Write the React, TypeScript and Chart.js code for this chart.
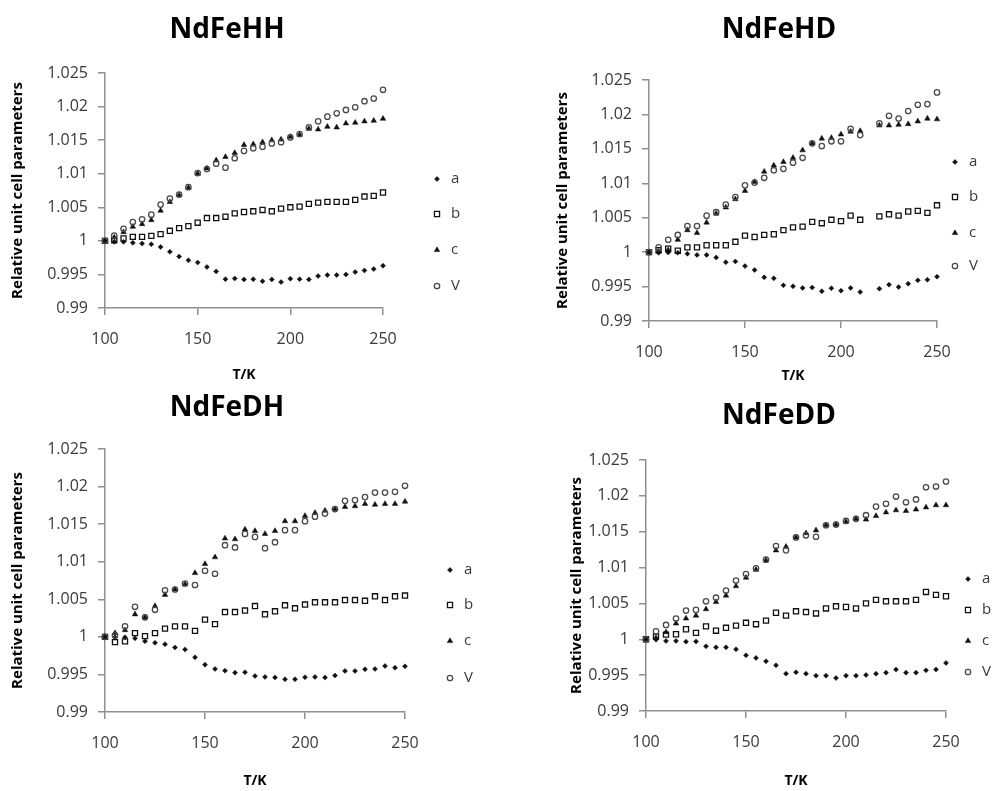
import React, { useEffect, useRef } from 'react';
import { Chart, registerables } from 'chart.js';

Chart.register(...registerables);

// ---------- data ----------
const temperatures = [100, 105, 110, 115, 120, 125, 130, 135, 140, 145, 150, 155, 160, 165, 170, 175, 180, 185, 190, 195, 200, 205, 210, 215, 220, 225, 230, 235, 240, 245, 250];

const seriesLabels = ['a', 'b', 'c', 'V'];
const xTickValues = [100, 150, 200, 250];
const yTickValues = [0.99, 0.995, 1, 1.005, 1.01, 1.015, 1.02, 1.025];
const panelTitles = ['NdFeHH', 'NdFeHD', 'NdFeDH', 'NdFeDD'];
const xAxisTitle = 'T/K';
const yAxisTitle = 'Relative unit cell parameters';

// NdFeHH
const hhA = [1.0, 0.99985, 0.99985, 0.9997, 0.9996, 0.9995, 0.9991, 0.99837, 0.99767, 0.9971, 0.99678, 0.9961, 0.99545, 0.9943, 0.9944, 0.99426, 0.9943, 0.994, 0.99426, 0.99386, 0.99436, 0.9943, 0.99426, 0.99475, 0.9949, 0.9949, 0.995, 0.99535, 0.9956, 0.9958, 0.99629];
const hhB = [1.0, 1.0001, 1.00035, 1.0006, 1.0006, 1.00075, 1.001, 1.0015, 1.0019, 1.0022, 1.0027, 1.0034, 1.0034, 1.0036, 1.0041, 1.0043, 1.0044, 1.0046, 1.0044, 1.0048, 1.005, 1.0051, 1.0055, 1.0057, 1.0058, 1.0058, 1.0058, 1.0061, 1.0066, 1.0067, 1.0072];
const hhC = [1.0, 1.0005, 1.0013, 1.0021, 1.0025, 1.0031, 1.0045, 1.0058, 1.0068, 1.0079, 1.01, 1.0108, 1.012, 1.0125, 1.0131, 1.0143, 1.0144, 1.0147, 1.015, 1.0151, 1.0155, 1.0158, 1.0167, 1.0166, 1.017, 1.0169, 1.0175, 1.0176, 1.0178, 1.0179, 1.0182];
const hhV = [1.0, 1.0008, 1.0018, 1.0028, 1.0032, 1.0039, 1.0054, 1.0063, 1.0069, 1.008, 1.0101, 1.0107, 1.0115, 1.0109, 1.0123, 1.0134, 1.0138, 1.014, 1.0145, 1.0147, 1.0154, 1.0159, 1.0169, 1.0178, 1.0185, 1.019, 1.0195, 1.0199, 1.0208, 1.0212, 1.0225];

// NdFeHD (no measurement at 215 K)
const hdA = [1.0, 0.9999, 0.99995, 0.9999, 0.99976, 0.9996, 0.9996, 0.99923, 0.99855, 0.99865, 0.99797, 0.9974, 0.99634, 0.9962, 0.99518, 0.99504, 0.9948, 0.99485, 0.99432, 0.99475, 0.99441, 0.9948, 0.99422, null, 0.9947, 0.99528, 0.99494, 0.99542, 0.9959, 0.996, 0.99644];
const hdB = [1.0, 1.0003, 1.0005, 1.0002, 1.0007, 1.0007, 1.001, 1.001, 1.001, 1.0015, 1.0024, 1.0022, 1.0025, 1.0026, 1.0032, 1.0036, 1.0037, 1.0044, 1.0042, 1.0047, 1.0045, 1.0053, 1.0047, null, 1.0052, 1.0055, 1.0053, 1.0059, 1.006, 1.0057, 1.0068];
const hdC = [1.0, 1.0001, 1.0003, 1.0018, 1.0032, 1.0028, 1.0043, 1.0056, 1.0065, 1.0077, 1.0089, 1.0102, 1.0117, 1.0126, 1.0131, 1.0137, 1.0148, 1.0158, 1.0165, 1.0166, 1.0171, 1.0175, 1.0176, null, 1.0184, 1.0184, 1.0185, 1.0186, 1.019, 1.0194, 1.0193];
const hdV = [1.0, 1.0007, 1.0018, 1.0025, 1.0038, 1.0038, 1.0053, 1.0058, 1.0069, 1.008, 1.0097, 1.0101, 1.0108, 1.0119, 1.0121, 1.013, 1.0137, 1.0158, 1.0154, 1.0161, 1.0161, 1.0179, 1.017, null, 1.0187, 1.0198, 1.0194, 1.0205, 1.0214, 1.0215, 1.0232];

// NdFeDH
const dhA = [1.0, 0.9999, 0.99995, 0.9998, 0.99943, 0.9992, 0.99903, 0.99859, 0.99833, 0.99727, 0.9963, 0.99573, 0.9955, 0.99524, 0.99529, 0.9948, 0.99467, 0.9946, 0.99436, 0.99436, 0.99463, 0.99467, 0.99458, 0.99485, 0.99546, 0.99546, 0.99568, 0.99573, 0.99612, 0.9959, 0.99608];
const dhB = [1.0, 0.9993, 0.9994, 1.0005, 1.0001, 1.0005, 1.0011, 1.0014, 1.0014, 1.0008, 1.0023, 1.0017, 1.0033, 1.0033, 1.0035, 1.0041, 1.003, 1.0034, 1.0042, 1.0038, 1.0043, 1.0046, 1.0046, 1.0046, 1.0049, 1.0049, 1.0048, 1.0054, 1.0049, 1.0054, 1.0055];
const dhC = [1.0, 1.0005, 1.0009, 1.003, 1.0026, 1.0041, 1.0056, 1.0063, 1.007, 1.0085, 1.0097, 1.0106, 1.0131, 1.013, 1.0143, 1.0141, 1.0137, 1.0141, 1.0154, 1.0154, 1.0161, 1.0165, 1.0168, 1.017, 1.0173, 1.0174, 1.0177, 1.0176, 1.0177, 1.0177, 1.018];
const dhV = [1.0, 1.0002, 1.0014, 1.004, 1.0026, 1.0036, 1.0062, 1.0063, 1.0071, 1.0069, 1.0088, 1.0084, 1.0122, 1.0119, 1.0137, 1.0133, 1.0118, 1.0126, 1.0142, 1.0142, 1.0154, 1.016, 1.0164, 1.017, 1.0181, 1.0182, 1.0186, 1.0192, 1.0192, 1.0193, 1.0201];

// NdFeDD
const ddA = [1.0, 0.99995, 0.99977, 0.99977, 0.99967, 0.9997, 0.99902, 0.99888, 0.99888, 0.9986, 0.99777, 0.9974, 0.99693, 0.99637, 0.99521, 0.9954, 0.99521, 0.99493, 0.99493, 0.9946, 0.99493, 0.99493, 0.99502, 0.9952, 0.99535, 0.99577, 0.99535, 0.99535, 0.99567, 0.9958, 0.9967];
const ddB = [1.0, 1.0004, 1.00065, 1.0007, 1.0014, 1.0009, 1.0018, 1.0012, 1.0016, 1.0019, 1.0023, 1.0021, 1.0026, 1.0037, 1.0033, 1.0039, 1.0038, 1.0036, 1.0043, 1.0046, 1.0045, 1.0043, 1.005, 1.0055, 1.0053, 1.0053, 1.0053, 1.0055, 1.0066, 1.0062, 1.006];
const ddC = [1.0, 1.0002, 1.001, 1.0022, 1.0029, 1.0033, 1.0042, 1.0052, 1.0061, 1.0074, 1.0086, 1.0097, 1.011, 1.0124, 1.0129, 1.0142, 1.0148, 1.0152, 1.0159, 1.016, 1.0164, 1.0168, 1.0167, 1.0172, 1.0177, 1.018, 1.0179, 1.0181, 1.0184, 1.0187, 1.0187];
const ddV = [1.0, 1.0011, 1.002, 1.0029, 1.004, 1.0041, 1.0053, 1.0058, 1.0068, 1.0082, 1.0091, 1.0099, 1.0111, 1.013, 1.0124, 1.0142, 1.0145, 1.0143, 1.0159, 1.016, 1.0165, 1.0168, 1.0173, 1.0185, 1.0189, 1.0199, 1.0191, 1.0195, 1.0212, 1.0213, 1.022];

// ---------- styles / layout ----------
const FONT = '"Open Sans", "DejaVu Sans", sans-serif';
const AXIS_COLOR = '#8f8f8f';
const TICK_COLOR = '#3a3a3a';
const PAGE_W = 1005;
const PAGE_H = 791;

const markerStyles = [
  { pointStyle: 'rectRot', radius: 2.5, fill: '#111', stroke: '#111', width: 0.5 },
  { pointStyle: 'rect', radius: 3.6, fill: 'rgba(255,255,255,0)', stroke: '#111', width: 1.3 },
  { pointStyle: 'triangle', radius: 3.2, fill: '#111', stroke: '#111', width: 0.5 },
  { pointStyle: 'circle', radius: 2.7, fill: 'rgba(255,255,255,0)', stroke: '#4a4a4a', width: 1.3 },
];

const panels = [
  { title: panelTitles[0], series: [hhA, hhB, hhC, hhV], area: { left: 105, right: 383, top: 73, bottom: 308 }, titleX: 227, titleY: 38, yTitleX: 18, xTitleY: 375, legendX: 437, legendYs: [179, 214, 250, 286] },
  { title: panelTitles[1], series: [hdA, hdB, hdC, hdV], area: { left: 649, right: 937, top: 80, bottom: 321 }, titleX: 779, titleY: 38, yTitleX: 563, xTitleY: 376, legendX: 955, legendYs: [162, 197, 233, 266] },
  { title: panelTitles[2], series: [dhA, dhB, dhC, dhV], area: { left: 105, right: 405, top: 449, bottom: 712 }, titleX: 227, titleY: 416, yTitleX: 18, xTitleY: 781, legendX: 450, legendYs: [570, 605, 641, 678] },
  { title: panelTitles[3], series: [ddA, ddB, ddC, ddV], area: { left: 646, right: 946, top: 460, bottom: 711 }, titleX: 779, titleY: 424, yTitleX: 577, xTitleY: 781, legendX: 968, legendYs: [579, 610, 641, 672] },
];

function drawMarker(ctx: CanvasRenderingContext2D, style: string, x: number, y: number, r: number) {
  ctx.beginPath();
  if (style === 'circle') {
    ctx.arc(x, y, r, 0, Math.PI * 2);
  } else if (style === 'rect') {
    const s = Math.SQRT1_2 * r;
    ctx.rect(x - s, y - s, 2 * s, 2 * s);
  } else if (style === 'rectRot') {
    ctx.moveTo(x - r, y);
    ctx.lineTo(x, y - r);
    ctx.lineTo(x + r, y);
    ctx.lineTo(x, y + r);
    ctx.closePath();
  } else if (style === 'triangle') {
    ctx.moveTo(x, y - r);
    ctx.lineTo(x + Math.sin(Math.PI * 2 / 3) * r, y + 0.5 * r);
    ctx.lineTo(x - Math.sin(Math.PI * 2 / 3) * r, y + 0.5 * r);
    ctx.closePath();
  }
}

const decorPlugin = {
  id: 'decor',
  afterDraw(chart: any, _args: any, opts: any) {
    const ctx: CanvasRenderingContext2D = chart.ctx;
    ctx.save();
    ctx.fillStyle = '#000';
    ctx.font = `bold 28px ${FONT}`;
    ctx.textAlign = 'center';
    ctx.textBaseline = 'alphabetic';
    ctx.fillText(opts.title, opts.titleX, opts.titleY);

    chart.data.datasets.forEach((ds: any, i: number) => {
      const y = opts.legendYs[i];
      const m = markerStyles[i];
      drawMarker(ctx, ds.pointStyle, opts.legendX, y, ds.pointRadius);
      ctx.fillStyle = m.fill;
      ctx.fill();
      ctx.lineWidth = m.width;
      ctx.strokeStyle = m.stroke;
      ctx.stroke();
      ctx.fillStyle = TICK_COLOR;
      ctx.font = `15px ${FONT}`;
      ctx.textAlign = 'left';
      ctx.textBaseline = 'middle';
      ctx.fillText(ds.label, opts.legendX + 14, y);
    });
    ctx.restore();
  },
};

function Panel({ cfg }: { cfg: any }) {
  const ref = useRef<HTMLCanvasElement | null>(null);

  useEffect(() => {
    if (!ref.current) return;
    const yTitleFont = 15;
    const xTitleFont = 14;
    const padLeft = cfg.yTitleX - (yTitleFont * 1.2) / 2;
    const xScaleBottom = cfg.xTitleY + (xTitleFont * 1.2) / 2;
    const padBottom = PAGE_H - xScaleBottom;
    const xScaleHeight = xScaleBottom - cfg.area.bottom;
    const yScaleWidth = cfg.area.left - padLeft;

    const datasets = seriesLabels.map((label, i) => {
      const m = markerStyles[i];
      const values = cfg.series[i];
      const points = temperatures
        .map((t, k) => ({ x: t, y: values[k] }))
        .filter((p) => p.y !== null && p.y !== undefined);
      return {
        label,
        data: points,
        showLine: false,
        clip: false,
        pointStyle: m.pointStyle,
        pointRadius: m.radius,
        pointHoverRadius: m.radius,
        pointBackgroundColor: m.fill,
        pointBorderColor: m.stroke,
        pointBorderWidth: m.width,
        order: 3 - i,
      };
    });

    const chart = new Chart(ref.current, {
      type: 'scatter',
      data: { datasets },
      plugins: [decorPlugin],
      options: {
        responsive: false,
        animation: false,
        events: [],
        layout: {
          padding: {
            left: padLeft,
            top: cfg.area.top,
            right: PAGE_W - cfg.area.right,
            bottom: padBottom,
          },
        },
        plugins: {
          legend: { display: false },
          tooltip: { enabled: false },
          decor: {
            title: cfg.title,
            titleX: cfg.titleX,
            titleY: cfg.titleY,
            legendX: cfg.legendX,
            legendYs: cfg.legendYs,
          },
        } as any,
        scales: {
          x: {
            type: 'linear',
            min: xTickValues[0],
            max: xTickValues[xTickValues.length - 1],
            afterBuildTicks: (s: any) => {
              s.ticks = xTickValues.map((v) => ({ value: v }));
            },
            afterFit: (s: any) => {
              s.height = xScaleHeight;
            },
            grid: { display: true, drawOnChartArea: false, drawTicks: true, tickLength: 7, color: AXIS_COLOR, lineWidth: 1.5 },
            border: { display: true, color: AXIS_COLOR, width: 1.5 },
            ticks: {
              font: { family: FONT, size: 16 },
              color: TICK_COLOR,
              padding: 15,
              maxRotation: 0,
              autoSkip: false,
              callback: (v: any) => String(v),
            },
            title: {
              display: true,
              text: xAxisTitle,
              font: { family: FONT, size: xTitleFont, weight: 'bold' },
              color: '#000',
              padding: { top: 0, bottom: 0 },
            },
          },
          y: {
            type: 'linear',
            min: yTickValues[0],
            max: yTickValues[yTickValues.length - 1],
            afterBuildTicks: (s: any) => {
              s.ticks = yTickValues.map((v) => ({ value: v }));
            },
            afterFit: (s: any) => {
              s.width = yScaleWidth;
            },
            grid: { display: true, drawOnChartArea: false, drawTicks: true, tickLength: 7, color: AXIS_COLOR, lineWidth: 1.5 },
            border: { display: true, color: AXIS_COLOR, width: 1.5 },
            ticks: {
              font: { family: FONT, size: 16 },
              color: TICK_COLOR,
              padding: 10,
              autoSkip: false,
              callback: (v: any) => String(Number(Number(v).toFixed(3))),
            },
            title: {
              display: true,
              text: yAxisTitle,
              font: { family: FONT, size: yTitleFont, weight: 'bold' },
              color: '#000',
              padding: { top: 0, bottom: 0 },
            },
          },
        },
      } as any,
    });
    return () => chart.destroy();
  }, [cfg]);

  return (
    <canvas
      ref={ref}
      width={PAGE_W}
      height={PAGE_H}
      style={{ position: 'absolute', left: 0, top: 0, width: PAGE_W, height: PAGE_H }}
    />
  );
}

export default function App() {
  return (
    <div style={{ position: 'absolute', left: 0, top: 0, width: PAGE_W, height: PAGE_H, background: '#fff', overflow: 'hidden' }}>
      {panels.map((p) => (
        <Panel key={p.title} cfg={p} />
      ))}
    </div>
  );
}
